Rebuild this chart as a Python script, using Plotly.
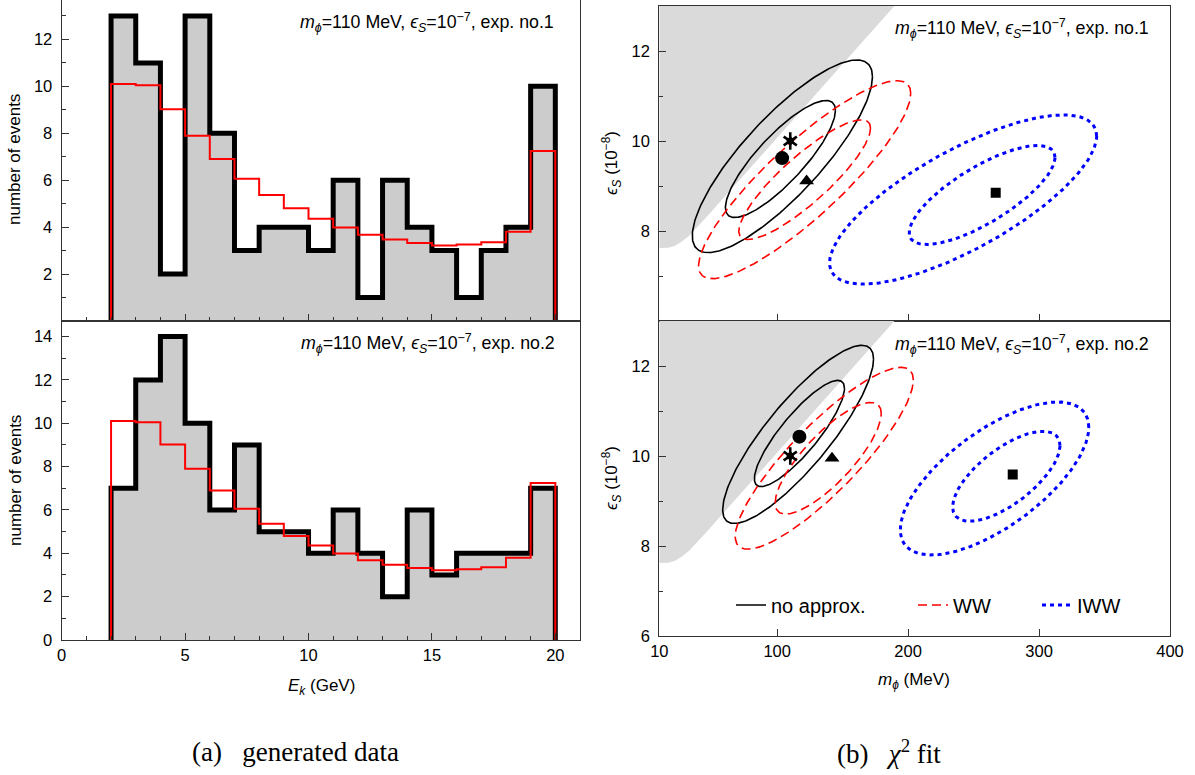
import numpy as np
import plotly.graph_objects as go

# ---------------- data ----------------
bin_edges = [2, 3, 4, 5, 6, 7, 8, 9, 10, 11, 12, 13, 14, 15, 16, 17, 18, 19, 20]
events_exp1 = [13, 11, 2, 13, 8, 3, 4, 4, 3, 6, 1, 6, 4, 3, 1, 3, 4, 10]
events_exp2 = [7, 12, 14, 10, 6, 9, 5, 5, 4, 6, 4, 2, 6, 3, 4, 4, 4, 7]
expected_events = [10.1, 10.05, 9.02, 7.9, 6.9, 6.06, 5.37, 4.8, 4.36, 3.99,
                   3.68, 3.47, 3.32, 3.22, 3.26, 3.36, 3.8, 7.25]

# excluded (grey) region boundary in the (m_phi, eps_S) plane
excl_m = [10, 17, 22, 27, 33, 46.6, 189.5, 200]
excl_eps = [7.62, 7.63, 7.67, 7.76, 7.9, 8.33, 13.0, 13.33]

true_m = 110
true_eps = 10
fit_methods = ["no approx.", "WW", "IWW"]
fit_m_exp1 = [103.8, 122.5, 266.9]
fit_eps_exp1 = [9.62, 9.11, 8.85]
fit_m_exp2 = [117.0, 141.9, 279.9]
fit_eps_exp2 = [10.43, 9.95, 9.59]

# confidence contours: experiment, method, centre, half-width, half-height, correlation
contour_exp = [1, 1, 1, 1, 1, 1, 2, 2, 2, 2, 2, 2]
contour_method = ["no approx.", "no approx.", "WW", "WW", "IWW", "IWW",
                  "no approx.", "no approx.", "WW", "WW", "IWW", "IWW"]
contour_m0 = [104, 102.5, 121, 121, 242, 256.5, 116, 117, 136, 139, 266, 275]
contour_eps0 = [9.66, 9.6, 9.14, 9.14, 8.7, 8.8, 10.48, 10.5, 9.95, 9.95, 9.5, 9.55]
contour_halfw = [68.8, 42, 81, 50.3, 102, 55.7, 57.6, 34.4, 68, 40.5, 72, 41]
contour_halfh = [2.14, 1.30, 2.2, 1.33, 1.88, 1.1, 1.98, 1.18, 2.02, 1.24, 1.7, 1.0]
contour_rho = [0.825, 0.83, 0.87, 0.86, 0.75, 0.76, 0.845, 0.85, 0.86, 0.8, 0.67, 0.68]

label_exp1 = "<i>m</i><sub><i>ϕ</i></sub>=110 MeV, <i>ϵ</i><sub><i>S</i></sub>=10<sup>−7</sup>, exp. no.1"
label_exp2 = "<i>m</i><sub><i>ϕ</i></sub>=110 MeV, <i>ϵ</i><sub><i>S</i></sub>=10<sup>−7</sup>, exp. no.2"

# ---------------- styles ----------------
FONT = "Liberation Sans, Arial, sans-serif"
AXC = "#333333"
style = {
    "no approx.": dict(color="#000000", dash="solid", width=1.6),
    "WW": dict(color="#ff0000", dash="9px,5px", width=1.6),
    "IWW": dict(color="#0000ff", dash="4px,4px", width=3),
}
legend_of = {"no approx.": "legend", "WW": "legend2", "IWW": "legend3"}
fit_symbols = {"no approx.": ("circle", 14), "WW": ("triangle-up", 13), "IWW": ("square", 10)}

W, H = 1195, 775
lx = [61.7 / W, 580 / W]
rx = [659.3 / W, 1170 / W]
tl_y = [1 - 321 / H, 1.0]
bl_y = [1 - 640 / H, 1 - 321 / H]
tr_y = [1 - 321 / H, 1 - 6 / H]
br_y = [1 - 636 / H, 1 - 321 / H]

fig = go.Figure()


def step_arrays(values):
    xs = [bin_edges[0]] + list(bin_edges) + [bin_edges[-1]]
    ys = [0] + list(values) + [values[-1], 0]
    return xs, ys


for ev, xa, ya in [(events_exp1, "x", "y"), (events_exp2, "x2", "y2")]:
    xs, ys = step_arrays(ev)
    fig.add_trace(go.Scatter(x=xs, y=ys, mode="lines", line=dict(shape="hv", color="black", width=5),
                             fill="tozeroy", fillcolor="#cccccc", xaxis=xa, yaxis=ya,
                             showlegend=False, hoverinfo="skip"))
    xs, ys = step_arrays(expected_events)
    fig.add_trace(go.Scatter(x=xs, y=ys, mode="lines", line=dict(shape="hv", color="#ff0000", width=2),
                             xaxis=xa, yaxis=ya, showlegend=False, hoverinfo="skip"))

# right panels
t = np.linspace(0, 2 * np.pi, 241)
for exp_no, xa, ya, fm, fe in [(1, "x3", "y3", fit_m_exp1, fit_eps_exp1),
                               (2, "x4", "y4", fit_m_exp2, fit_eps_exp2)]:
    poly_m = list(excl_m) + [excl_m[0]]
    poly_e = list(excl_eps) + [excl_eps[-1]]
    fig.add_trace(go.Scatter(x=poly_m, y=poly_e, mode="lines", fill="toself", fillcolor="#dadada",
                             line=dict(width=0, color="#dadada"), xaxis=xa, yaxis=ya,
                             showlegend=False, hoverinfo="skip"))
    shown = set()
    for i in range(len(contour_exp)):
        if contour_exp[i] != exp_no:
            continue
        meth = contour_method[i]
        r = contour_rho[i]
        cm = contour_m0[i] + contour_halfw[i] * np.cos(t)
        ce = contour_eps0[i] + contour_halfh[i] * (r * np.cos(t) + np.sqrt(1 - r * r) * np.sin(t))
        show = (exp_no == 2 and meth not in shown)
        shown.add(meth)
        fig.add_trace(go.Scatter(x=cm, y=ce, mode="lines", line=style[meth], name=meth,
                                 legend=legend_of[meth], legendgroup=meth, showlegend=show,
                                 xaxis=xa, yaxis=ya, hoverinfo="skip"))
    fig.add_trace(go.Scatter(x=[true_m], y=[true_eps], mode="markers",
                             marker=dict(symbol="hexagram", size=9, color="black", line=dict(width=0)),
                             xaxis=xa, yaxis=ya, showlegend=False, hoverinfo="skip"))
    for sym in ["y-up-open", "y-down-open"]:
        fig.add_trace(go.Scatter(x=[true_m], y=[true_eps], mode="markers",
                                 marker=dict(symbol=sym, size=11, color="black",
                                             line=dict(width=2.6, color="black")),
                                 xaxis=xa, yaxis=ya, showlegend=False, hoverinfo="skip"))
    for j, meth in enumerate(fit_methods):
        sym, sz = fit_symbols[meth]
        fig.add_trace(go.Scatter(x=[fm[j]], y=[fe[j]], mode="markers",
                                 marker=dict(symbol=sym, size=sz, color="black"),
                                 xaxis=xa, yaxis=ya, showlegend=False, hoverinfo="skip"))

tickfont = dict(family=FONT, size=16.5, color="black")
common = dict(showline=True, mirror=True, linecolor=AXC, linewidth=1.2, ticks="inside",
              tickcolor=AXC, tickwidth=1, showgrid=False, zeroline=False, tickfont=tickfont,
              automargin=False)
xstand = dict(ticklabelstandoff=0)
ystand = dict(ticklabelstandoff=5)


def minor(d):
    return dict(ticks="inside", ticklen=4, tickcolor=AXC, dtick=d, tick0=0, showgrid=False)


legfont = dict(family=FONT, size=20, color="black")


def leg(text_start_px):
    return dict(orientation="h", x=(text_start_px - 43) / W, xanchor="left", y=1 - 605 / H,
                yanchor="middle", font=legfont, bgcolor="rgba(0,0,0,0)", itemwidth=30)


fig.update_layout(
    width=W, height=H, margin=dict(l=0, r=0, t=0, b=0),
    plot_bgcolor="white", paper_bgcolor="white",
    font=dict(family=FONT, size=16, color="black"),
    xaxis=dict(domain=lx, anchor="y", range=[0, 21], tickvals=[0, 5, 10, 15, 20], ticklen=7,
               minor=minor(1), showticklabels=False, **common, **xstand),
    yaxis=dict(domain=tl_y, anchor="x", range=[0, 13.68], tickvals=[2, 4, 6, 8, 10, 12], ticklen=7,
               minor=minor(1), **common, **ystand),
    xaxis2=dict(domain=lx, anchor="y2", range=[0, 21], tickvals=[0, 5, 10, 15, 20], ticklen=7,
                minor=minor(1), **common, **xstand),
    yaxis2=dict(domain=bl_y, anchor="x2", range=[0, 14.72], tickvals=[0, 2, 4, 6, 8, 10, 12, 14],
                ticklen=7, minor=minor(1), **common, **ystand),
    xaxis3=dict(domain=rx, anchor="y3", range=[10, 400], tickvals=[10, 100, 200, 300, 400], ticklen=7,
                showticklabels=False, **common, **xstand),
    yaxis3=dict(domain=tr_y, anchor="x3", range=[6, 13], tickvals=[8, 10, 12], ticklen=7,
                minor=minor(1), **common, **ystand),
    xaxis4=dict(domain=rx, anchor="y4", range=[10, 400], tickvals=[10, 100, 200, 300, 400], ticklen=7,
                **common, **xstand),
    yaxis4=dict(domain=br_y, anchor="x4", range=[6, 13], tickvals=[6, 8, 10, 12], ticklen=7,
                minor=minor(1), **common, **ystand),
    legend=leg(774), legend2=leg(956), legend3=leg(1080),
)

ann = []
for txt, xr, yc in [(label_exp1, 556, 23), (label_exp2, 557, 343),
                    (label_exp1, 1151, 28), (label_exp2, 1151, 344)]:
    ann.append(dict(text=txt, x=xr / W, y=1 - yc / H, xref="paper", yref="paper",
                    xanchor="right", yanchor="middle", showarrow=False,
                    font=dict(family=FONT, size=17.8, color="black")))
# axis titles
titles = [
    ("number of events", 15, 160, -90),
    ("number of events", 15, 481, -90),
    ("<i>ϵ</i><sub><i>S</i></sub> (10<sup>−8</sup>)", 611, 163, -90),
    ("<i>ϵ</i><sub><i>S</i></sub> (10<sup>−8</sup>)", 611, 478, -90),
    ("<i>E</i><sub><i>k</i></sub> (GeV)", 321, 687, 0),
    ("<i>m</i><sub><i>ϕ</i></sub> (MeV)", 914, 681, 0),
]
for txt, xc, yc, ang in titles:
    ann.append(dict(text=txt, x=xc / W, y=1 - yc / H, textangle=ang, xref="paper", yref="paper",
                    xanchor="center", yanchor="middle", showarrow=False,
                    font=dict(family=FONT, size=17, color="black")))
# captions
for txt, xc in [("(a)\u2002 generated data", 295), ("(b)\u2002 <i>χ</i><sup>2</sup> fit", 889)]:
    ann.append(dict(text=txt, x=xc / W, y=1 - 752 / H, xref="paper", yref="paper",
                    xanchor="center", yanchor="middle", showarrow=False,
                    font=dict(family="Liberation Serif, DejaVu Serif, serif", size=27, color="black")))
fig.update_layout(annotations=ann)

fig.write_html("out.html")
